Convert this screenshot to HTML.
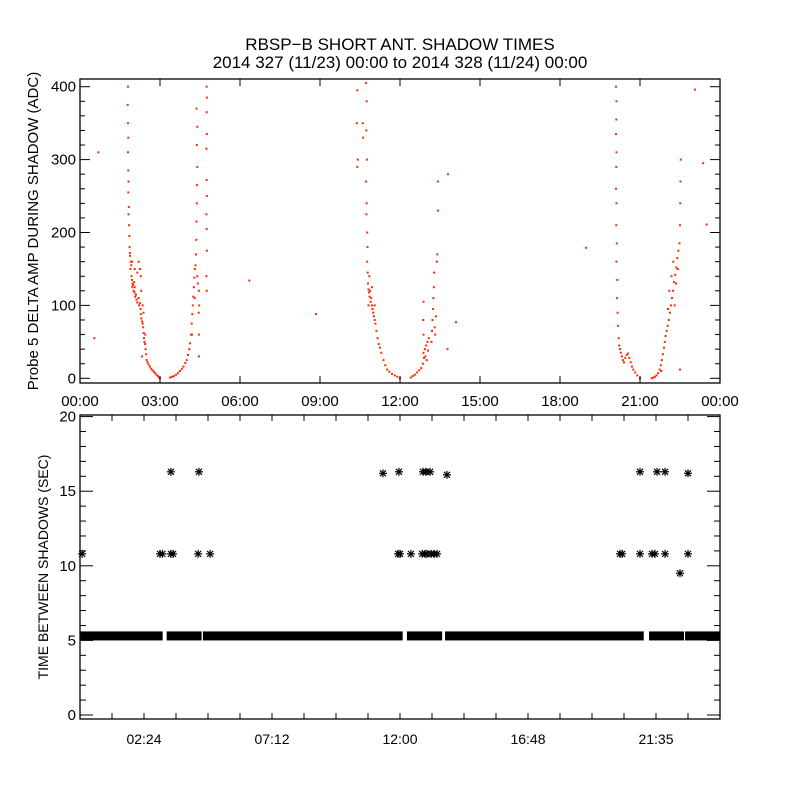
<!DOCTYPE html>
<html><head><meta charset="utf-8"><style>
html,body{margin:0;padding:0;background:#fff;}
svg{display:block;font-family:"Liberation Sans",sans-serif;}
</style></head><body>
<svg id="chart" width="800" height="800" viewBox="0 0 800 800">
<rect width="800" height="800" fill="#fff"/>
<text x="400" y="50" font-size="17" text-anchor="middle">RBSP−B SHORT ANT. SHADOW TIMES</text>
<text x="400" y="68" font-size="17" text-anchor="middle">2014 327 (11/23) 00:00 to 2014 328 (11/24) 00:00</text>
<g id="topPanel"></g>
<g id="botPanel"></g>
</svg>
<script>
// ---- top panel data: [hour, amplitude ADC]
const pass1Down=[[1.80,400],[1.79,375],[1.80,350],[1.81,330],[1.80,310],[1.81,285],[1.82,270],[1.81,255],[1.83,235],[1.82,225],[1.84,210],[1.85,195],[1.86,180],[1.87,172],[1.88,168],[1.90,160],[1.89,150],[1.92,155],[1.93,140],[1.95,135],[1.97,130],[1.96,125],[1.99,128],[2.01,120],[2.03,132],[2.05,125],[2.04,118],[2.07,112],[2.10,115],[2.12,108],[2.15,104],[2.20,110],[2.22,100],[2.25,103],[2.27,95],[2.28,88],[2.30,82],[2.33,78],[2.35,75],[2.37,70],[2.39,62],[2.40,55],[2.42,50],[2.44,47],[2.46,40],[2.48,33],[2.50,25],[2.53,22],[2.57,19],[2.62,16],[2.67,13],[2.72,11],[2.77,9],[2.82,7],[2.87,5],[2.92,3],[2.97,1],[3.00,0],[2.20,160],[2.25,150],[2.30,120],[2.35,100],[2.38,90],[2.28,140],[2.15,145],[2.05,150],[1.95,160],[2.45,60],[2.33,30]];
const pass1Up=[[3.38,1],[3.45,2],[3.52,3],[3.60,5],[3.68,7],[3.75,10],[3.82,13],[3.88,16],[3.95,21],[4.00,25],[4.05,32],[4.10,40],[4.13,48],[4.16,60],[4.19,75],[4.21,88],[4.23,100],[4.25,112],[4.27,125],[4.29,138],[4.31,150],[4.33,155],[4.35,170],[4.36,190],[4.37,215],[4.38,240],[4.39,265],[4.40,290],[4.38,320],[4.40,345],[4.37,370],[4.46,30],[4.46,60],[4.45,90],[4.47,100],[4.46,120],[4.75,120],[4.74,140],[4.76,175],[4.75,205],[4.74,225],[4.76,250],[4.75,272],[4.74,315],[4.76,335],[4.75,365],[4.76,385],[4.75,400],[4.40,140],[4.42,130],[4.30,110],[4.20,60]];
const pass2Down=[[10.40,395],[10.38,350],[10.42,300],[10.40,290],[10.72,405],[10.75,380],[10.74,340],[10.76,300],[10.73,270],[10.75,240],[10.74,225],[10.77,200],[10.78,180],[10.77,160],[10.79,145],[10.80,130],[10.82,122],[10.84,118],[10.86,112],[10.88,120],[10.90,105],[10.92,110],[10.95,100],[10.97,95],[11.00,90],[11.02,85],[11.05,80],[11.08,75],[11.12,65],[11.16,55],[11.20,47],[11.25,42],[11.30,35],[11.38,25],[11.45,18],[11.52,12],[11.60,9],[11.70,6],[11.80,4],[11.90,2],[12.00,0],[10.60,350],[10.62,330],[10.85,140],[10.95,125],[11.05,100],[10.82,100]];
const pass2Up=[[12.40,1],[12.48,3],[12.56,5],[12.64,8],[12.72,11],[12.80,14],[12.86,20],[12.88,35],[12.90,28],[12.93,40],[12.95,30],[12.98,45],[13.00,25],[13.03,50],[13.05,38],[13.08,55],[12.88,60],[12.87,80],[12.88,105],[13.18,50],[13.20,65],[13.22,80],[13.24,95],[13.25,110],[13.27,125],[13.28,145],[13.30,70],[13.32,60],[13.35,85],[13.38,160],[13.40,170],[13.42,230],[13.42,270],[13.80,280],[13.78,40],[14.10,77]];
const pass3Down=[[20.10,400],[20.12,380],[20.11,355],[20.10,335],[20.12,310],[20.11,290],[20.10,260],[20.12,240],[20.11,210],[20.13,185],[20.12,160],[20.15,135],[20.14,110],[20.16,90],[20.18,72],[20.20,55],[20.22,45],[20.25,40],[20.28,35],[20.32,30],[20.36,25],[20.40,22],[20.45,28],[20.50,32],[20.55,34],[20.60,28],[20.65,22],[20.70,16],[20.75,12],[20.82,8],[20.90,4],[21.00,0]];
const pass3Up=[[21.44,0],[21.50,1],[21.56,2],[21.62,4],[21.68,7],[21.74,12],[21.78,18],[21.82,25],[21.86,33],[21.90,42],[21.93,50],[21.96,58],[22.00,65],[22.04,72],[22.08,80],[22.12,90],[22.16,100],[22.20,110],[22.24,120],[22.28,132],[22.32,142],[22.36,152],[22.40,165],[22.44,175],[22.48,185],[22.50,210],[22.51,240],[22.52,270],[22.53,300],[22.10,120],[22.18,140],[22.25,160],[22.30,100],[22.35,130],[22.42,150],[22.05,95],[22.50,12],[21.80,10]];
const strayPoints=[[0.54,55],[0.69,310],[6.35,134],[8.85,88],[18.98,179],[23.06,396],[23.37,295],[23.50,211]];
// ---- bottom panel data
const bandValue=5.3;
const bandSegments=[[0.02,3.10],[3.25,4.56],[4.61,12.10],[12.26,13.58],[13.69,21.14],[21.34,22.65],[22.69,24.0]];
const gapHours=[0.08,3.00,3.09,3.41,3.49,4.43,4.88,11.93,12.00,12.41,12.83,12.94,13.01,13.16,13.28,13.39,20.25,20.33,21.00,21.45,21.56,21.94,22.80];
const gapValues=[10.8,10.8,10.8,10.8,10.8,10.8,10.8,10.8,10.8,10.8,10.8,10.8,10.8,10.8,10.8,10.8,10.8,10.8,10.8,10.8,10.8,10.8,10.8];
const longHours=[3.41,4.46,11.36,11.96,12.86,12.98,13.13,13.76,21.00,21.64,21.94,22.80];
const longValues=[16.3,16.3,16.2,16.3,16.3,16.3,16.3,16.1,16.3,16.3,16.3,16.2];
const oddHours=[22.50];
const oddValues=[9.5];
const topTickLabels=["00:00","03:00","06:00","09:00","12:00","15:00","18:00","21:00","00:00"];
const botTickLabels=["02:24","07:12","12:00","16:48","21:35"];

const NS="http://www.w3.org/2000/svg";
function mk(tag,attrs,parent){const e=document.createElementNS(NS,tag);for(const k in attrs)e.setAttribute(k,attrs[k]);parent.appendChild(e);return e;}
const X0=80,X1=720;
const xs=h=>X0+h/24*(X1-X0);
// top
const T0=79,T1=383;
const ys1=v=>378.3-v*0.729;
const topG=document.getElementById('topPanel');
const allPasses=[pass1Down,pass1Up,pass2Down,pass2Up,pass3Down,pass3Up,strayPoints];
allPasses.forEach(arr=>arr.forEach(p=>{
  const r=mk('rect',{x:(xs(p[0])-1).toFixed(1),y:(ys1(p[1])-1).toFixed(1),width:2,height:2,fill:'#ff2a00'},topG);
  
  
}));
const b1=mk('rect',{x:X0,y:T0,width:X1-X0,height:T1-T0,fill:'none',stroke:'#000','stroke-width':1.3},topG);


for(let v=0;v<=400;v+=20){const y=ys1(v);const L=v%100===0?10:5;
  mk('line',{x1:X0,x2:X0+L,y1:y,y2:y,stroke:'#000'},topG);mk('line',{x1:X1,x2:X1-L,y1:y,y2:y,stroke:'#000'},topG);
  if(v%100===0){const t=mk('text',{x:76,y:y+5,'font-size':15,'text-anchor':'end'},topG);t.textContent=v;
    
    }}
topTickLabels.forEach((lab,i)=>{const x=xs(i*3);
  mk('line',{x1:x,x2:x,y1:T0,y2:T0+7,stroke:'#000'},topG);mk('line',{x1:x,x2:x,y1:T1,y2:T1-7,stroke:'#000'},topG);
  const t=mk('text',{x:x,y:406,'font-size':15,'text-anchor':'middle'},topG);t.textContent=lab;
  
  });
const yt1=mk('text',{x:0,y:0,'font-size':15,'text-anchor':'middle',transform:'translate(38,231) rotate(-90)'},topG);
yt1.textContent='Probe 5 DELTA AMP DURING SHADOW (ADC)';


// bottom
const B0=415,B1=719;
const ys2=v=>715-v*14.92;
const botG=document.getElementById('botPanel');
bandSegments.forEach(s=>{const y=ys2(bandValue);
  const xa=Math.max(X0,xs(s[0])), xb=Math.min(X1,xs(s[1]));
  const r=mk('rect',{x:xa,y:y-4.5,width:xb-xa,height:9,fill:'#000'},botG);
  
  });
function star(h,v){const x=xs(h),y=ys2(v),s=4;
  const g=mk('g',{stroke:'#000','stroke-width':1.2},botG);
  
  
  mk('line',{x1:x-s,x2:x+s,y1:y,y2:y},g);mk('line',{x1:x,x2:x,y1:y-s,y2:y+s},g);
  mk('line',{x1:x-3,x2:x+3,y1:y-3,y2:y+3},g);mk('line',{x1:x-3,x2:x+3,y1:y+3,y2:y-3},g);}
gapHours.forEach((h,i)=>star(h,gapValues[i]));
longHours.forEach((h,i)=>star(h,longValues[i]));
oddHours.forEach((h,i)=>star(h,oddValues[i]));
const b2=mk('rect',{x:X0,y:B0,width:X1-X0,height:B1-B0,fill:'none',stroke:'#000','stroke-width':1.3},botG);


for(let v=0;v<=20;v++){const y=ys2(v);const L=v%5===0?13:6;
  mk('line',{x1:X0,x2:X0+L,y1:y,y2:y,stroke:'#000'},botG);mk('line',{x1:X1,x2:X1-L,y1:y,y2:y,stroke:'#000'},botG);
  if(v%5===0){const t=mk('text',{x:76,y:y+5,'font-size':15,'text-anchor':'end'},botG);t.textContent=v;
    
    }}
for(let i=0;i<=20;i++){const x=xs(i*1.2);
  mk('line',{x1:x,x2:x,y1:B0,y2:B0+6,stroke:'#000'},botG);mk('line',{x1:x,x2:x,y1:B1,y2:B1-6,stroke:'#000'},botG);}
botTickLabels.forEach((lab,i)=>{const x=xs(2.4+i*4.8);
  const t=mk('text',{x:x,y:744,'font-size':14,'text-anchor':'middle'},botG);t.textContent=lab;
  
  });
const yt2=mk('text',{x:0,y:0,'font-size':14,'text-anchor':'middle',transform:'translate(48,567) rotate(-90)'},botG);
yt2.textContent='TIME BETWEEN SHADOWS (SEC)';


</script>
</body></html>
